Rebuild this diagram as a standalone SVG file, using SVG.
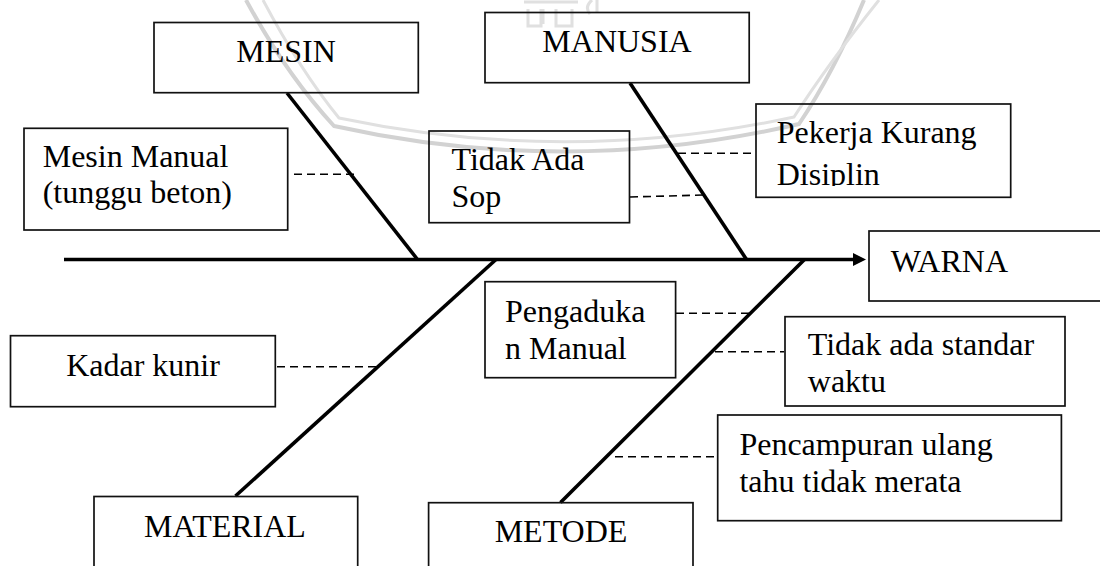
<svg xmlns="http://www.w3.org/2000/svg" width="1100" height="566" viewBox="0 0 1100 566">
  <style>
    .box { fill: none; stroke: #111; stroke-width: 1.7; }
    .lbl { font-family: "Liberation Serif", "Times New Roman", serif; font-size: 32px; fill: #000; }
    .mid { text-anchor: middle; }
    .bone { stroke: #000; stroke-width: 3.6; fill: none; stroke-linecap: butt; }
    .dash { stroke: #000; stroke-width: 1.6; stroke-dasharray: 8 5; fill: none; }
    .wm { fill: none; stroke: #d2d2d2; stroke-width: 4; }
    .wm2 { fill: none; stroke: #e0e0e0; stroke-width: 3; }
  </style>
  <defs>
    <marker id="head" markerWidth="14" markerHeight="14" refX="0" refY="7" orient="auto" markerUnits="userSpaceOnUse">
      <path d="M0,0.5 L13,7 L0,13.5 Z" fill="#000"/>
    </marker>
    <clipPath id="clipPekerja">
      <rect x="756" y="104" width="256" height="82"/>
    </clipPath>
  </defs>

  <rect width="1100" height="566" fill="#fff"/>

  <!-- faint background emblem -->
  <g id="emblem">
    <path class="wm" d="M246 0 Q286 74 334 126 Q567 178 799 124 Q834 72 864 0"/>
    <path class="wm2" d="M263 0 Q300 70 339 118 Q567 166 794 117 Q828 64 879 0"/>
    <path class="wm2" d="M524 2 H578 M528 9 V26 H541 V9 M543 9 V24 M556 9 V26 H572 V9 M590 14 Q584 7 592 0 M597 0 V12"/>
  </g>

  <!-- spine and category bones -->
  <g id="connectors">
    <line class="bone" x1="64" y1="259.5" x2="853" y2="259.5" marker-end="url(#head)"/>
    <line class="bone" x1="287" y1="93" x2="417.5" y2="259.5"/>
    <line class="bone" x1="630" y1="83" x2="746.5" y2="259.5"/>
    <line class="bone" x1="496" y1="259.5" x2="235.5" y2="496"/>
    <line class="bone" x1="804.5" y1="259.5" x2="560.5" y2="502.5"/>
    <line class="dash" x1="294" y1="174.3" x2="358" y2="174.3"/>
    <line class="dash" x1="678" y1="153.3" x2="756" y2="153.3"/>
    <line class="dash" x1="630" y1="197" x2="704.5" y2="195"/>
    <line class="dash" x1="277" y1="366.7" x2="379" y2="366.7"/>
    <line class="dash" x1="676" y1="313.3" x2="751.5" y2="313.3"/>
    <line class="dash" x1="715" y1="351.7" x2="784" y2="351.7"/>
    <line class="dash" x1="615" y1="456.7" x2="717.7" y2="456.7"/>
  </g>

  <g id="mesin">
    <rect class="box" x="154" y="22.5" width="264.3" height="70.2"/>
    <text class="lbl mid" x="286" y="62">MESIN</text>
  </g>

  <g id="manusia">
    <rect class="box" x="485" y="12.5" width="264.2" height="70.2"/>
    <text class="lbl mid" x="617" y="51.7">MANUSIA</text>
  </g>

  <g id="mesin-manual">
    <rect class="box" x="24" y="128.3" width="263.7" height="101.7"/>
    <text class="lbl" x="42.7" y="166.7">Mesin Manual</text>
    <text class="lbl" x="42.7" y="203.3">(tunggu beton)</text>
  </g>

  <g id="tidak-ada-sop">
    <rect class="box" x="429" y="131" width="200.5" height="91.7"/>
    <text class="lbl" x="451.5" y="170">Tidak Ada</text>
    <text class="lbl" x="451.5" y="206.7">Sop</text>
  </g>

  <g id="pekerja">
    <rect class="box" x="756" y="104" width="254.7" height="93.3"/>
    <g clip-path="url(#clipPekerja)">
      <text class="lbl" x="776.7" y="143.3">Pekerja Kurang</text>
      <text class="lbl" x="776.7" y="185">Disiplin</text>
    </g>
  </g>

  <g id="warna">
    <rect class="box" x="869" y="231" width="240" height="70"/>
    <text class="lbl" x="890.7" y="271.7">WARNA</text>
  </g>

  <g id="kadar-kunir">
    <rect class="box" x="10.5" y="335.7" width="264.8" height="71"/>
    <text class="lbl mid" x="143" y="376">Kadar kunir</text>
  </g>

  <g id="pengadukan">
    <rect class="box" x="485" y="281.7" width="190.6" height="96"/>
    <text class="lbl" x="505" y="321.7">Pengaduka</text>
    <text class="lbl" x="505" y="359">n Manual</text>
  </g>

  <g id="standar-waktu">
    <rect class="box" x="785" y="316.7" width="280" height="89.3"/>
    <text class="lbl" x="807.8" y="355">Tidak ada standar</text>
    <text class="lbl" x="807.8" y="391.7">waktu</text>
  </g>

  <g id="pencampuran">
    <rect class="box" x="717.7" y="415" width="343.7" height="105.7"/>
    <text class="lbl" x="739.4" y="455">Pencampuran ulang</text>
    <text class="lbl" x="739.4" y="491.7">tahu tidak merata</text>
  </g>

  <g id="material">
    <rect class="box" x="94" y="496.5" width="263.7" height="80"/>
    <text class="lbl mid" x="225" y="536.7">MATERIAL</text>
  </g>

  <g id="metode">
    <rect class="box" x="428.6" y="502.7" width="264.4" height="80"/>
    <text class="lbl mid" x="561" y="541.7">METODE</text>
  </g>
</svg>
